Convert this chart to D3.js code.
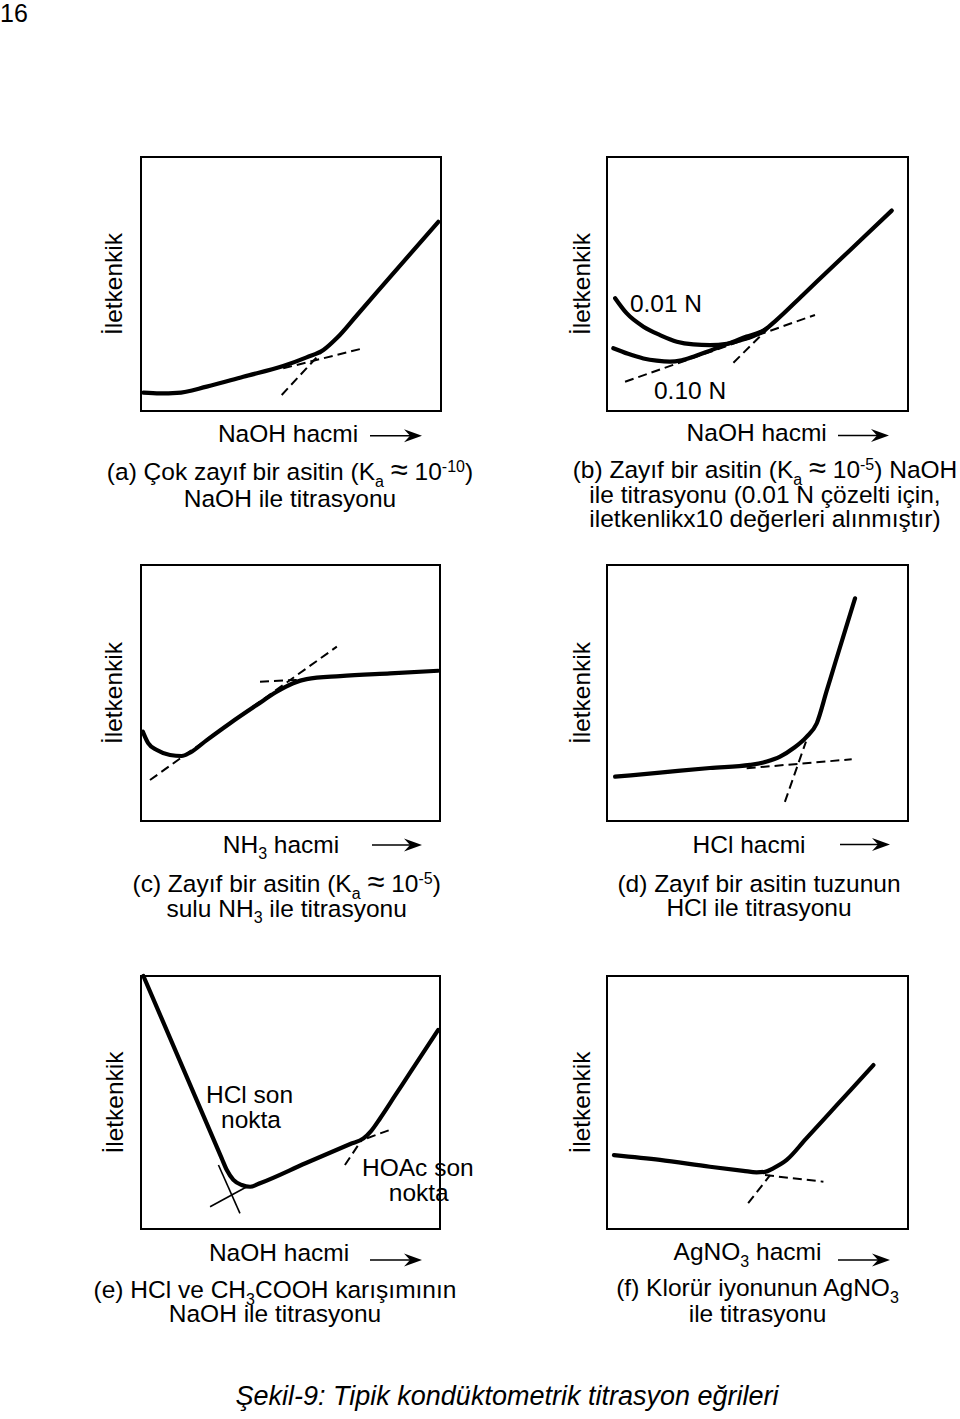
<!DOCTYPE html>
<html><head><meta charset="utf-8">
<script src="https://cdn.jsdelivr.net/npm/d3@7"></script>
<style>
body{margin:0;background:#fff}
svg{display:block}
text{font-family:"Liberation Sans",Arial,sans-serif;fill:#000;white-space:pre}
</style>
</head><body>
<svg id="chart" width="960" height="1419"></svg>
<script>
// ---------- data (x: volume 0-100, y: conductance 0-100, arbitrary units) ----------
const yAxisLabel = "İletkenkik";

// (a) very weak acid with NaOH
const curveA = [[0.8,7.2],[6.3,6.9],[12,7.1],[21.9,9.6],[34.1,13.5],[47.4,17.7],[55.2,21.1],[60.8,24.0],[65.2,28.6],[71.9,37.6],[83,52.7],[99.1,74.5]];
const dashA = [[[47.4,16.8],[74.1,24.7]],[[46.9,6.3],[60.8,24.0]]];

// (b) weak acid with NaOH, two concentrations
const curveB001 = [[2.7,44.4],[6.5,38.5],[12.1,33.2],[17.6,29.9],[23.2,27.3],[28.7,26.2],[34.2,25.9],[39.8,26.4],[44.2,27.8],[48.6,29.5],[52.5,32],[56,35.5],[65,45.6],[75,56.9],[85,68.1],[94.6,78.9]];
const curveB010 = [[2.1,24.7],[7,22.5],[12.1,20.7],[16.5,19.8],[20.9,19.4],[24.8,20],[28.7,21.4],[33,23.2],[37.5,25.3],[42,27.3],[46.4,29.3],[50.8,31],[52.5,32]];
const dashB = [[[6,11.5],[69.1,37.8]],[[42,19],[55.2,34.5]]];
const seriesLabelsB = ["0.01 N","0.10 N"];

// (c) weak acid with aqueous NH3
const curveC = [[0.6,34.9],[2.4,30.4],[5.3,27.7],[9.7,25.8],[13.6,25.4],[16.4,26.7],[22,31.6],[29.8,38.2],[38.7,45.3],[45.4,50.5],[50.9,53.8],[55.4,55.4],[66.6,56.6],[83.3,57.7],[99.4,58.7]];
const dashC = [[[3,16],[65.5,68.1]],[[39.8,54.4],[52.1,55.1]]];

// (d) salt of weak acid with HCl
const curveD = [[2.7,17.3],[17.6,18.9],[34.2,20.7],[47.5,21.9],[53.1,23.2],[57.5,25.1],[61.9,28.4],[66.3,32.9],[69.7,38.2],[73,50.9],[76,62.5],[79.2,74.8],[82.4,87]];
const dashD = [[[46.4,20.6],[81.3,24.1]],[[59.1,7.5],[66.1,31]]];

// (e) HCl + CH3COOH mixture with NaOH
const curveE = [[0.8,100],[14,63.7],[27,27.9],[28.7,23.3],[30.9,19.4],[33.7,17.4],[36.5,16.7],[40,18.2],[55,26],[70,33.6],[74.4,35.8],[77,38.8],[80,43.8],[85,52.8],[90,61.8],[95,70.8],[99.4,78.7]];
const thinE = [[[25.9,25.3],[33.1,6.2]],[[23.1,8.8],[35.4,16.7]]];
const dashE = [[[71.2,34],[83.8,39.4]],[[68.2,25.3],[73.8,35.2]]];
const annotE = [["HCl son","nokta"],["HOAc son","nokta"]];

// (f) chloride with AgNO3
const curveF = [[2.3,29.2],[17.6,27.3],[34.2,24.6],[45.3,23],[49.7,22.4],[52.5,22.6],[55.2,24],[59.7,27.3],[66,35.5],[74,45.9],[81,55],[88.5,64.8]];
const dashF = [[[52.5,21.3],[71.9,18.7]],[[46.9,10.2],[54.2,21.3]]];

// text (segments: [text, kind]) kind: sub / sup / big
const xLabels = {
  a:[["NaOH hacmi"]],
  b:[["NaOH hacmi"]],
  c:[["NH"],["3","sub"],[" hacmi"]],
  d:[["HCl hacmi"]],
  e:[["NaOH hacmi"]],
  f:[["AgNO"],["3","sub"],[" hacmi"]]
};
const captions = {
  a:[[["(a) Çok zayıf bir asitin (K"],["a","sub"],[" "],["≈","big"],[" 10"],["-10","sup"],[")"]],[["NaOH ile titrasyonu"]]],
  b:[[["(b) Zayıf bir asitin (K"],["a","sub"],[" "],["≈","big"],[" 10"],["-5","sup"],[") NaOH"]],[["ile titrasyonu (0.01 N çözelti için,"]],[["iletkenlikx10 değerleri alınmıştır)"]]],
  c:[[["(c) Zayıf bir asitin (K"],["a","sub"],[" "],["≈","big"],[" 10"],["-5","sup"],[")"]],[["sulu NH"],["3","sub"],[" ile titrasyonu"]]],
  d:[[["(d) Zayıf bir asitin tuzunun"]],[["HCl ile titrasyonu"]]],
  e:[[["(e) HCl ve CH"],["3","sub"],["COOH karışımının"]],[["NaOH ile titrasyonu"]]],
  f:[[["(f) Klorür iyonunun AgNO"],["3","sub"]],[["ile titrasyonu"]]]
};
const pageNumber = "16";
const figureTitle = "Şekil-9: Tipik kondüktometrik titrasyon eğrileri";

// ---------- layout ----------
const FS = 24.5;
const svg = d3.select("#chart");

function rich(sel, x, y, segs, anchor) {
  const t = sel.append("text").attr("x", x).attr("y", y)
    .attr("text-anchor", anchor || "middle").attr("font-size", FS);
  let shift = 0;
  segs.forEach(s => {
    const kind = s[1] || null;
    const target = kind === "sub" ? 6.5 : kind === "sup" ? -8 : 0;
    const ts = t.append("tspan").text(s[0]).attr("dy", target - shift);
    if (kind === "sub" || kind === "sup") ts.attr("font-size", 16);
    if (kind === "big") ts.attr("font-size", 31);
    shift = target;
  });
  return t;
}

function arrow(x1, x2, y) {
  svg.append("line").attr("x1", x1).attr("x2", x2 - 8).attr("y1", y).attr("y2", y)
    .attr("stroke", "#000").attr("stroke-width", 1.5);
  svg.append("path").attr("d", `M${x2},${y} L${x2-18},${y-6.5} L${x2-12},${y} L${x2-18},${y+6.5} Z`)
    .attr("fill", "#000");
}

const panels = [
  {k:"a", x:141, y:157, w:300, h:254, curves:[curveA], dash:dashA, thin:[],
   ylx:122, xl:[288,441.7], arr:[370,422,435.7], cap:[290,480,26.7]},
  {k:"b", x:607, y:157, w:301, h:254, curves:[curveB001, curveB010], dash:dashB, thin:[],
   ylx:590, xl:[756.7,441], arr:[838,889,435.5], cap:[765,478.3,24.2]},
  {k:"c", x:141, y:565, w:299, h:256, curves:[curveC], dash:dashC, thin:[],
   ylx:122, xl:[281,852.5], arr:[372,422,845], cap:[286.7,892,24.5]},
  {k:"d", x:607, y:565, w:301, h:256, curves:[curveD], dash:dashD, thin:[],
   ylx:590, xl:[749,852.5], arr:[840,890,844.5], cap:[759,892,24]},
  {k:"e", x:141, y:976, w:299, h:253, curves:[curveE], dash:dashE, thin:thinE,
   ylx:123, xl:[279,1261], arr:[370,422,1260], cap:[275,1298,24]},
  {k:"f", x:607, y:976, w:301, h:253, curves:[curveF], dash:dashF, thin:[],
   ylx:590, xl:[747.5,1260], arr:[838,890,1260], cap:[757.5,1296,25.5]}
];

panels.forEach(p => {
  const xs = d3.scaleLinear().domain([0,100]).range([p.x, p.x + p.w]);
  const ys = d3.scaleLinear().domain([0,100]).range([p.y + p.h, p.y]);
  const g = svg.append("g");
  g.append("rect").attr("x", p.x).attr("y", p.y).attr("width", p.w).attr("height", p.h)
    .attr("fill", "none").attr("stroke", "#000").attr("stroke-width", 2);

  const line = d3.line().x(d => xs(d[0])).y(d => ys(d[1])).curve(d3.curveMonotoneX);
  const seg = d3.line().x(d => xs(d[0])).y(d => ys(d[1]));

  p.dash.forEach(d => g.append("path").attr("d", seg(d)).attr("fill", "none")
    .attr("stroke", "#000").attr("stroke-width", 2).attr("stroke-dasharray", "9,5"));
  p.thin.forEach(d => g.append("path").attr("d", seg(d)).attr("fill", "none")
    .attr("stroke", "#000").attr("stroke-width", 1.6));
  p.curves.forEach(c => g.append("path").attr("d", line(c)).attr("fill", "none")
    .attr("stroke", "#000").attr("stroke-width", 4.2).attr("stroke-linecap", "round")
    .attr("stroke-linejoin", "round"));

  // y label
  const cy = p.y + p.h / 2;
  svg.append("text").attr("transform", `translate(${p.ylx},${cy}) rotate(-90)`)
    .attr("text-anchor", "middle").attr("font-size", FS).text(yAxisLabel);

  // x label + arrow
  rich(svg, p.xl[0], p.xl[1], xLabels[p.k], "middle");
  arrow(p.arr[0], p.arr[1], p.arr[2]);

  // caption
  captions[p.k].forEach((ln, i) => rich(svg, p.cap[0], p.cap[1] + i * p.cap[2], ln, "middle"));

  if (p.k === "b") {
    svg.append("text").attr("x", xs(7.6)).attr("y", ys(39.1)).attr("font-size", FS).text(seriesLabelsB[0]);
    svg.append("text").attr("x", xs(15.6)).attr("y", ys(4.7)).attr("font-size", FS).text(seriesLabelsB[1]);
  }
  if (p.k === "e") {
    const a1 = [[36.3,49.8],[36.8,39.9]], a2 = [[92.6,20.8],[92.9,10.9]];
    annotE[0].forEach((t,i) => svg.append("text").attr("x", xs(a1[i][0])).attr("y", ys(a1[i][1]))
      .attr("text-anchor","middle").attr("font-size", FS).text(t));
    annotE[1].forEach((t,i) => svg.append("text").attr("x", xs(a2[i][0])).attr("y", ys(a2[i][1]))
      .attr("text-anchor","middle").attr("font-size", FS).text(t));
  }
});

svg.append("text").attr("x", 0).attr("y", 22).attr("font-size", 25).text(pageNumber);
svg.append("text").attr("x", 507).attr("y", 1405).attr("text-anchor", "middle")
  .attr("font-size", 27).attr("font-style", "italic").text(figureTitle);
</script>
</body></html>
